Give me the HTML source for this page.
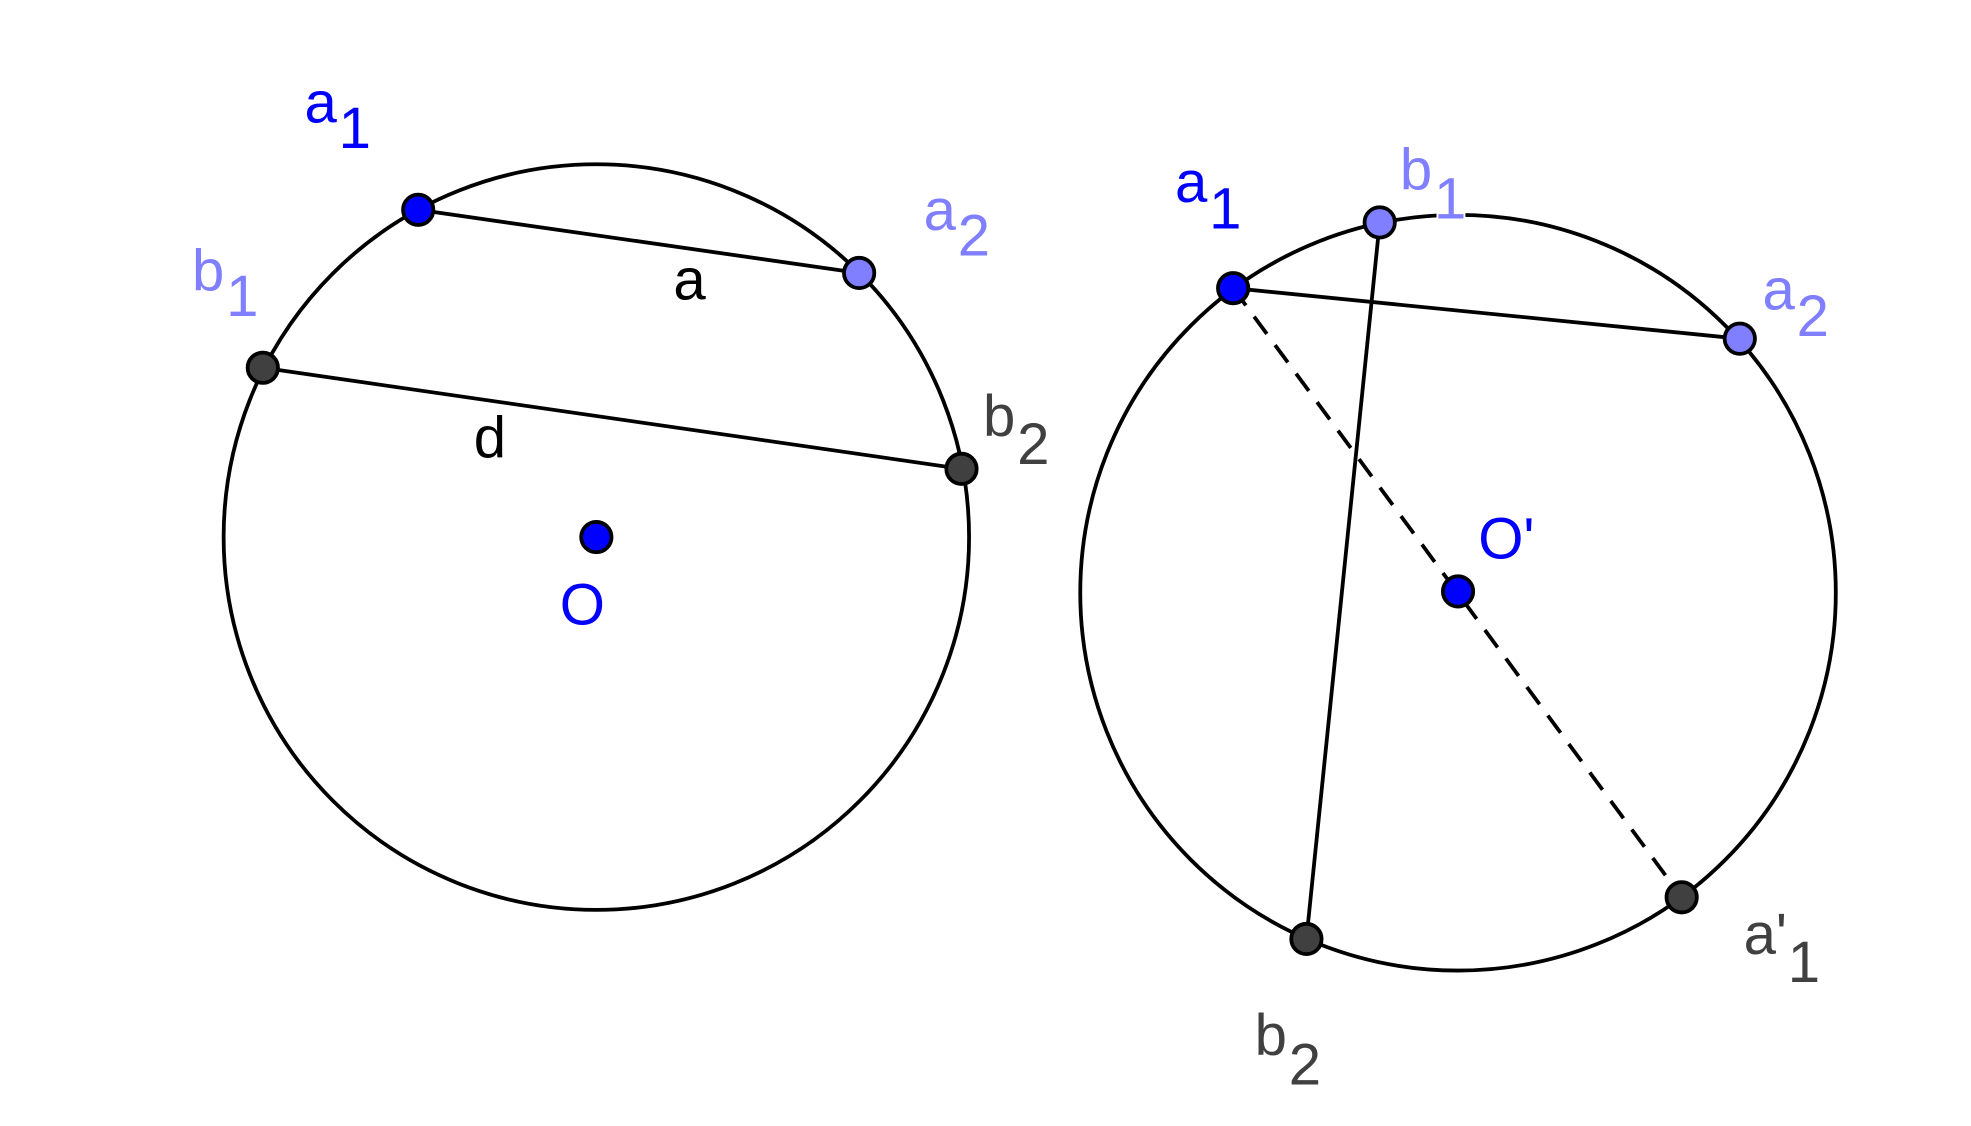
<!DOCTYPE html>
<html><head><meta charset="utf-8"><style>
html,body{margin:0;padding:0;background:#fff;}
svg{display:block;}
text{font-family:"Liberation Sans",sans-serif;}
</style></head><body>
<svg width="1971" height="1126" viewBox="0 0 1560 891" preserveAspectRatio="none" xmlns="http://www.w3.org/2000/svg">
<rect width="1560" height="891" fill="#fff"/>
<g fill="none" stroke="#000" stroke-width="3">
<circle cx="472" cy="425" r="295"/>
<circle cx="1154" cy="469" r="299"/>
<line x1="331" y1="166" x2="680" y2="216"/>
<line x1="208" y1="291" x2="761" y2="371"/>
<line x1="976" y1="228" x2="1377" y2="268"/>
<line x1="1092" y1="176" x2="1034" y2="743"/>
<line x1="976" y1="228" x2="1331" y2="710" stroke-dasharray="17,11"/>
</g>
<g stroke="#000" stroke-width="3">
<circle cx="331" cy="166" r="12" fill="#0000ff"/>
<circle cx="680" cy="216" r="12" fill="#7f7fff"/>
<circle cx="208" cy="291" r="12" fill="#404040"/>
<circle cx="761" cy="371" r="12" fill="#404040"/>
<circle cx="472" cy="425" r="12" fill="#0000ff"/>
<circle cx="976" cy="228" r="12" fill="#0000ff"/>
<circle cx="1092" cy="176" r="12" fill="#7f7fff"/>
<circle cx="1377" cy="268" r="12" fill="#7f7fff"/>
<circle cx="1154" cy="468" r="12" fill="#0000ff"/>
<circle cx="1034" cy="743" r="12" fill="#404040"/>
<circle cx="1331" cy="710" r="12" fill="#404040"/>
</g>
<g font-size="46">
<text x="241" y="97" fill="#0000ff">a</text><text x="268" y="117" fill="#0000ff">1</text>
<text x="731" y="182" fill="#7f7fff">a</text><text x="758" y="202" fill="#7f7fff">2</text>
<text x="152" y="230" fill="#7f7fff">b</text><text x="179" y="250" fill="#7f7fff">1</text>
<text x="778" y="345" fill="#404040">b</text><text x="805" y="367" fill="#404040">2</text>
<text x="533" y="237" fill="#000">a</text>
<text x="375" y="362" fill="#000">d</text>
<text x="443" y="494" fill="#0000ff">O</text>
<text x="930" y="160" fill="#0000ff">a</text><text x="957" y="181" fill="#0000ff">1</text>
<text x="1108" y="150" fill="#7f7fff">b</text><text x="1135" y="173" fill="#7f7fff" stroke="#fff" stroke-width="3" paint-order="stroke">1</text>
<text x="1395" y="245" fill="#7f7fff">a</text><text x="1422" y="266" fill="#7f7fff">2</text>
<text x="1170" y="442" fill="#0000ff">O'</text>
<text x="1380" y="755" fill="#404040">a'</text><text x="1415" y="777" fill="#404040">1</text>
<text x="993" y="835" fill="#404040">b</text><text x="1020" y="858" fill="#404040">2</text>
</g>
</svg>
</body></html>
